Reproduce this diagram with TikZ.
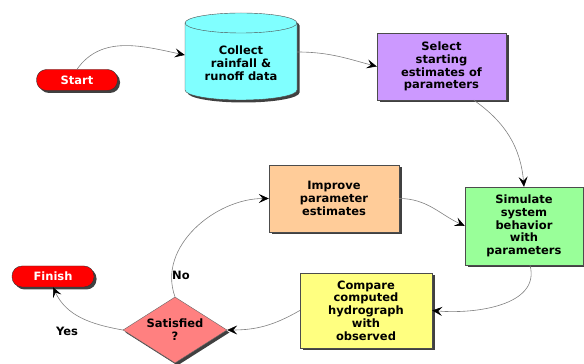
\documentclass[tikz,border=0pt]{standalone}
\usepackage{fontspec}
\setmainfont{DejaVu Sans}
\usetikzlibrary{arrows.meta, positioning, calc, shapes.geometric, shadows}

\definecolor{startred}{RGB}{255,0,0}
\definecolor{datacyan}{RGB}{128,255,255}
\definecolor{selectpurple}{RGB}{204,153,255}
\definecolor{simgreen}{RGB}{153,255,153}
\definecolor{improvepeach}{RGB}{255,204,153}
\definecolor{compareyellow}{RGB}{255,255,128}
\definecolor{decisionpink}{RGB}{255,128,128}

\tikzset{
    shadowed/.style={drop shadow={shadow xshift=2.5pt, shadow yshift=-2.5pt, fill=black, opacity=0.75}},
    terminal/.style={draw=black!80, fill=startred, text=white, rounded corners=10pt,
        minimum width=81pt, minimum height=21pt, inner sep=0pt, shadowed},
    process/.style={draw=black!70, align=center, inner sep=0pt, shadowed},
    flow/.style={draw=black!50, line width=0.6pt, -{Stealth[length=10pt, width=9pt, inset=4pt, black]}},
    tag/.style={inner sep=1pt}
}

\begin{document}
\begin{tikzpicture}[x=1pt, y=1pt, font=\fontsize{11.5}{12.8}\selectfont\bfseries]
    \useasboundingbox (0,0) rectangle (584,364);

    % Terminals
    \node[terminal] (start) at (77, 284) {Start};
    \node[terminal, minimum width=82pt] (finish) at (53, 87.5) {Finish};

    % Data store
    \path[draw=black!70, fill=datacyan, shadowed] (185, 341) -- (185, 274)
        arc (180:360:56 and 10) -- (297, 341) arc (0:180:56 and 10) -- cycle;
    \draw[black!70] (185, 341) arc (180:360:56 and 10);
    \node[align=center, minimum width=112pt, inner sep=0pt]
        (data) at (241, 301) {Collect\\rainfall \&\\runoff data};

    % Steps
    \node[process, fill=selectpurple, minimum width=129pt, minimum height=67pt]
        (select) at (441.5, 297.5) {Select\\starting\\estimates of\\parameters};
    \node[process, fill=simgreen, minimum width=118pt, minimum height=78pt]
        (simulate) at (524, 138) {Simulate\\system\\behavior\\with\\parameters};
    \node[process, fill=improvepeach, minimum width=130pt, minimum height=67pt]
        (improve) at (334, 165.5) {Improve\\parameter\\estimates};
    \node[process, fill=compareyellow, minimum width=132pt, minimum height=75pt]
        (compare) at (366, 53.5) {Compare\\computed\\hydrograph\\with\\observed};

    % Decision
    \node[diamond, draw=black!60, fill=decisionpink, aspect=1.6, inner sep=0pt,
        minimum width=104pt, minimum height=66pt, align=center, shadowed]
        (satisfied) at (175, 34) {Satisfied\\?};

    % Connectors
    \draw[flow] (start.north) to[out=55, in=168] ($(data.west)+(0,8)$);
    \draw[flow] ($(data.east)+(0,11)$) to[out=0, in=165] (select.west);
    \draw[flow] ($(select.south)!0.5!(select.south east)$) to[out=-35, in=95] (simulate.north);
    \draw[flow] (improve.east) to[out=0, in=155] (simulate.west);
    \draw[flow] ($(simulate.south)+(6,0)$) to[out=-75, in=-5] (compare.east);
    \draw[flow] (compare.west) to[out=210, in=0] (satisfied.east);
    \draw[flow] (satisfied.north) to[out=110, in=180] (improve.west);
    \draw[flow] (satisfied.west) to[out=170, in=-65] (finish.south);

    % Answers
    \node[tag] (no) at (181, 89) {No};
    \node[tag] (yes) at (67, 33) {Yes};
\end{tikzpicture}
\end{document}
